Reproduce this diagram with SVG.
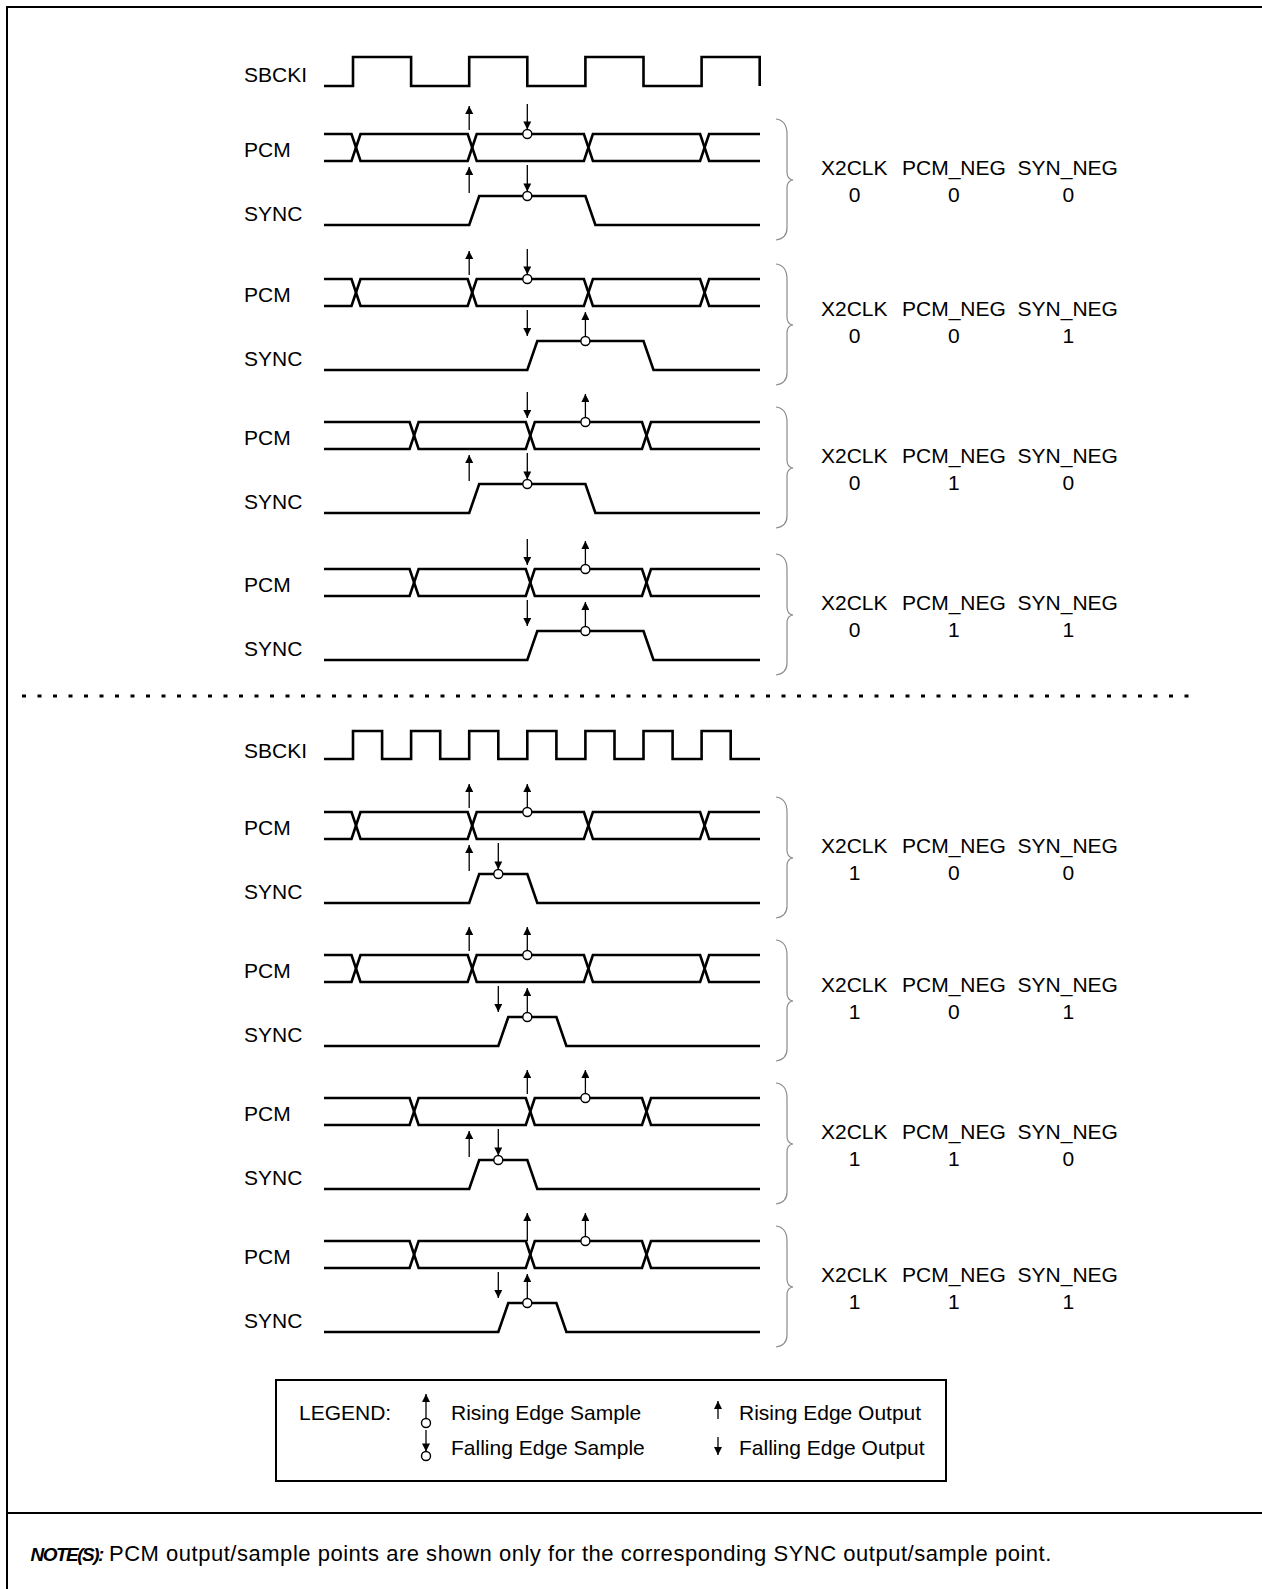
<svg xmlns="http://www.w3.org/2000/svg" width="1262" height="1589" viewBox="0 0 1262 1589">
<style>
text{font-family:"Liberation Sans",Arial,Helvetica,sans-serif;font-size:21px;fill:#000}
.w{fill:none;stroke:#000;stroke-width:2.6;stroke-linejoin:miter}
.a{fill:none;stroke:#000;stroke-width:1.3;marker-end:url(#ah)}
.c{fill:#fff;stroke:#000;stroke-width:1.4}
.br{fill:none;stroke:#8c8c8c;stroke-width:1.2}
.fr{fill:none;stroke:#000;stroke-width:2}
.m{text-anchor:middle}
</style>
<defs>
<marker id="ah" viewBox="0 0 10 10" refX="10" refY="5" markerWidth="9" markerHeight="8" markerUnits="userSpaceOnUse" orient="auto"><path d="M0,0L10,5L0,10z" fill="#000"/></marker>
<path id="brace" class="br" d="M776,-15C783,-14 787,-10 787,0L787,38C787,43 789,45.5 793,46C789,46.5 787,49 787,54L787,94C787,102 783,105 776,106"/>
<g id="pcmA"><path class="w" d="M324,0H351.5L360.5,27H467.7L476.7,0H583.9L592.9,27H700.1L709.1,0H760"/><path class="w" d="M324,27H351.5L360.5,0H467.7L476.7,27H583.9L592.9,0H700.1L709.1,27H760"/></g>
<g id="pcmB"><path class="w" d="M324,0H409.6L418.6,27H525.8L534.8,0H642L651,27H760"/><path class="w" d="M324,27H409.6L418.6,0H525.8L534.8,27H642L651,0H760"/></g>
<g id="lbl"><text x="244" y="22.5">PCM</text><text x="244" y="86.5">SYNC</text></g>
<g id="hdr"><text x="821" y="41">X2CLK</text><text x="902" y="41">PCM_NEG</text><text x="1017.6" y="41">SYN_NEG</text></g>
</defs>

<g id="frame">
<path class="fr" d="M7,1589V7H1262"/>
<line class="fr" x1="7" y1="1513" x2="1262" y2="1513"/>
<line x1="22" y1="696" x2="1199" y2="696" stroke="#000" stroke-width="3" stroke-dasharray="4 11.5"/>
</g>

<g id="sbcki1">
<text x="244" y="81.5">SBCKI</text>
<path class="w" d="M324,86H353V57H411.1V86H469.2V57H527.3V86H585.4V57H643.5V86H701.6V57H759.7V86"/>
</g>

<g id="block1" transform="translate(0,134)">
<use href="#lbl"/><use href="#hdr"/><use href="#pcmA"/><use href="#brace"/>
<text class="m" x="854.5" y="68">0</text><text class="m" x="953.8" y="68">0</text><text class="m" x="1068.3" y="68">0</text>
<path class="w" d="M324,91H469.2L479.2,62H585.4L595.4,91H760"/>
<g id="b1-arrows">
<line class="a" x1="469.2" y1="-4" x2="469.2" y2="-28"/>
<line class="a" x1="527.3" y1="-30" x2="527.3" y2="-4.5"/><circle class="c" cx="527.3" cy="0" r="4.5"/>
<line class="a" x1="469.2" y1="59" x2="469.2" y2="33"/>
<line class="a" x1="527.3" y1="31" x2="527.3" y2="57.5"/><circle class="c" cx="527.3" cy="62" r="4.5"/>
</g>
</g>

<g id="block2" transform="translate(0,279)">
<use href="#lbl"/><use href="#hdr" y="-4"/><use href="#pcmA"/><use href="#brace"/>
<text class="m" x="854.5" y="64">0</text><text class="m" x="953.8" y="64">0</text><text class="m" x="1068.3" y="64">1</text>
<path class="w" d="M324,91H527.3L537.3,62H643.5L653.5,91H760"/>
<g id="b2-arrows">
<line class="a" x1="469.2" y1="-4" x2="469.2" y2="-28"/>
<line class="a" x1="527.3" y1="-30" x2="527.3" y2="-4.5"/><circle class="c" cx="527.3" cy="0" r="4.5"/>
<line class="a" x1="527.3" y1="31" x2="527.3" y2="57"/>
<line class="a" x1="585.4" y1="57.5" x2="585.4" y2="33"/><circle class="c" cx="585.4" cy="62" r="4.5"/>
</g>
</g>

<g id="block3" transform="translate(0,422)">
<use href="#lbl"/><use href="#hdr"/><use href="#pcmB"/><use href="#brace"/>
<text class="m" x="854.5" y="68">0</text><text class="m" x="953.8" y="68">1</text><text class="m" x="1068.3" y="68">0</text>
<path class="w" d="M324,91H469.2L479.2,62H585.4L595.4,91H760"/>
<g id="b3-arrows">
<line class="a" x1="527.3" y1="-30" x2="527.3" y2="-4"/>
<line class="a" x1="585.4" y1="-4.5" x2="585.4" y2="-28"/><circle class="c" cx="585.4" cy="0" r="4.5"/>
<line class="a" x1="469.2" y1="59" x2="469.2" y2="33"/>
<line class="a" x1="527.3" y1="31" x2="527.3" y2="57.5"/><circle class="c" cx="527.3" cy="62" r="4.5"/>
</g>
</g>

<g id="block4" transform="translate(0,569)">
<use href="#lbl"/><use href="#hdr"/><use href="#pcmB"/><use href="#brace"/>
<text class="m" x="854.5" y="68">0</text><text class="m" x="953.8" y="68">1</text><text class="m" x="1068.3" y="68">1</text>
<path class="w" d="M324,91H527.3L537.3,62H643.5L653.5,91H760"/>
<g id="b4-arrows">
<line class="a" x1="527.3" y1="-30" x2="527.3" y2="-4"/>
<line class="a" x1="585.4" y1="-4.5" x2="585.4" y2="-28"/><circle class="c" cx="585.4" cy="0" r="4.5"/>
<line class="a" x1="527.3" y1="31" x2="527.3" y2="57"/>
<line class="a" x1="585.4" y1="57.5" x2="585.4" y2="33"/><circle class="c" cx="585.4" cy="62" r="4.5"/>
</g>
</g>

<g id="sbcki2">
<text x="244" y="757.5">SBCKI</text>
<path class="w" d="M324,759H353V731H382.1V759H411.1V731H440.2V759H469.2V731H498.3V759H527.3V731H556.4V759H585.4V731H614.5V759H643.5V731H672.6V759H701.6V731H730.7V759H760"/>
</g>

<g id="block5" transform="translate(0,812)">
<use href="#lbl"/><use href="#hdr"/><use href="#pcmA"/><use href="#brace"/>
<text class="m" x="854.5" y="68">1</text><text class="m" x="953.8" y="68">0</text><text class="m" x="1068.3" y="68">0</text>
<path class="w" d="M324,91H469.2L479.2,62H527.3L537.3,91H760"/>
<g id="b5-arrows">
<line class="a" x1="469.2" y1="-4" x2="469.2" y2="-28"/>
<line class="a" x1="527.3" y1="-4.5" x2="527.3" y2="-28"/><circle class="c" cx="527.3" cy="0" r="4.5"/>
<line class="a" x1="469.2" y1="59" x2="469.2" y2="33"/>
<line class="a" x1="498.3" y1="31" x2="498.3" y2="57.5"/><circle class="c" cx="498.3" cy="62" r="4.5"/>
</g>
</g>

<g id="block6" transform="translate(0,955)">
<use href="#lbl"/><use href="#hdr" y="-4"/><use href="#pcmA"/><use href="#brace"/>
<text class="m" x="854.5" y="64">1</text><text class="m" x="953.8" y="64">0</text><text class="m" x="1068.3" y="64">1</text>
<path class="w" d="M324,91H498.3L508.3,62H556.4L566.4,91H760"/>
<g id="b6-arrows">
<line class="a" x1="469.2" y1="-4" x2="469.2" y2="-28"/>
<line class="a" x1="527.3" y1="-4.5" x2="527.3" y2="-28"/><circle class="c" cx="527.3" cy="0" r="4.5"/>
<line class="a" x1="498.3" y1="31" x2="498.3" y2="57"/>
<line class="a" x1="527.3" y1="57.5" x2="527.3" y2="33"/><circle class="c" cx="527.3" cy="62" r="4.5"/>
</g>
</g>

<g id="block7" transform="translate(0,1098)">
<use href="#lbl"/><use href="#hdr"/><use href="#pcmB"/><use href="#brace"/>
<text class="m" x="854.5" y="68">1</text><text class="m" x="953.8" y="68">1</text><text class="m" x="1068.3" y="68">0</text>
<path class="w" d="M324,91H469.2L479.2,62H527.3L537.3,91H760"/>
<g id="b7-arrows">
<line class="a" x1="527.3" y1="-4" x2="527.3" y2="-28"/>
<line class="a" x1="585.4" y1="-4.5" x2="585.4" y2="-28"/><circle class="c" cx="585.4" cy="0" r="4.5"/>
<line class="a" x1="469.2" y1="59" x2="469.2" y2="33"/>
<line class="a" x1="498.3" y1="31" x2="498.3" y2="57.5"/><circle class="c" cx="498.3" cy="62" r="4.5"/>
</g>
</g>

<g id="block8" transform="translate(0,1241)">
<use href="#lbl"/><use href="#hdr"/><use href="#pcmB"/><use href="#brace"/>
<text class="m" x="854.5" y="68">1</text><text class="m" x="953.8" y="68">1</text><text class="m" x="1068.3" y="68">1</text>
<path class="w" d="M324,91H498.3L508.3,62H556.4L566.4,91H760"/>
<g id="b8-arrows">
<line class="a" x1="527.3" y1="0" x2="527.3" y2="-28"/>
<line class="a" x1="585.4" y1="-4.5" x2="585.4" y2="-28"/><circle class="c" cx="585.4" cy="0" r="4.5"/>
<line class="a" x1="498.3" y1="31" x2="498.3" y2="57"/>
<line class="a" x1="527.3" y1="57.5" x2="527.3" y2="33"/><circle class="c" cx="527.3" cy="62" r="4.5"/>
</g>
</g>

<g id="legend">
<rect x="276" y="1380" width="670" height="101" fill="none" stroke="#000" stroke-width="2"/>
<text x="299" y="1420">LEGEND:</text>
<line class="a" x1="426" y1="1418.5" x2="426" y2="1394"/><circle class="c" cx="426" cy="1423" r="4.5"/>
<text x="451" y="1420">Rising Edge Sample</text>
<line class="a" x1="426" y1="1430" x2="426" y2="1451.5"/><circle class="c" cx="426" cy="1456" r="4.5"/>
<text x="451" y="1455">Falling Edge Sample</text>
<line class="a" x1="718" y1="1419" x2="718" y2="1401"/>
<text x="739" y="1420">Rising Edge Output</text>
<line class="a" x1="718" y1="1437" x2="718" y2="1455"/>
<text x="739" y="1455">Falling Edge Output</text>
</g>

<g id="note">
<text x="30.5" y="1561"><tspan font-weight="bold" font-style="italic" font-size="19" letter-spacing="-1.5">NOTE(S):</tspan><tspan x="109" font-size="22" letter-spacing="0.52">PCM output/sample points are shown only for the corresponding SYNC output/sample point.</tspan></text>
</g>
</svg>
